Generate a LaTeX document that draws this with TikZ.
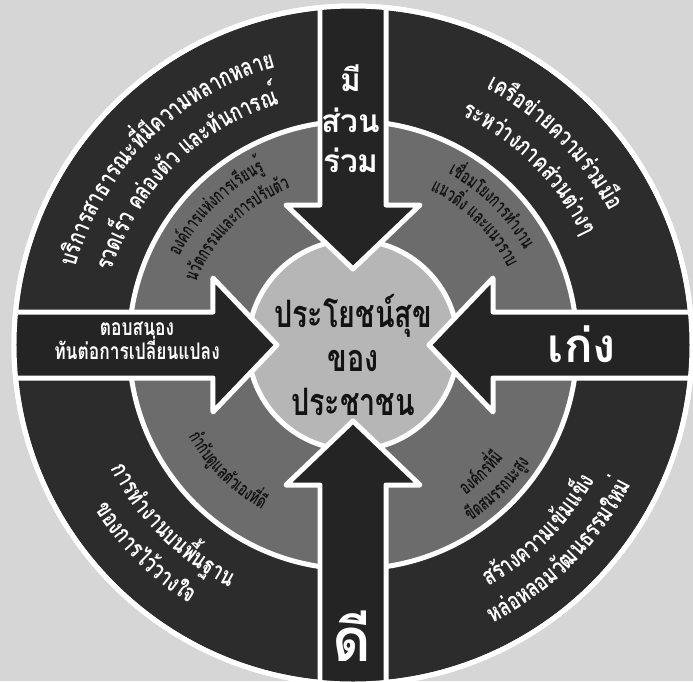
\documentclass[tikz,border=0pt]{standalone}
\usepackage{fontspec}
\newfontfamily\thaifont[Script=Thai]{Loma}
\newfontfamily\thainarrow[Script=Thai,FakeStretch=0.76]{Loma}
\newfontfamily\thaitight[Script=Thai,FakeStretch=0.66]{Loma}
\usetikzlibrary{decorations.text}
\definecolor{bgpaper}{RGB}{214,214,214}
\definecolor{ringdark}{RGB}{44,44,44}
\definecolor{ringmid}{RGB}{108,108,108}
\definecolor{ringcore}{RGB}{182,182,182}
\definecolor{arrowdark}{RGB}{36,36,36}
\definecolor{inkdark}{RGB}{18,18,18}

\begin{document}
\begin{tikzpicture}[x=0.02cm,y=0.02cm,line join=round,
  sep/.style={draw=white,line width=0.1cm},
  bigarrow/.style={fill=arrowdark,draw=white,line width=0.1cm},
  outertext/.style={decorate,decoration={text along path,text align=center,
      text={|\thainarrow\bfseries\color{white}\fontsize{14}{14}\selectfont|#1}}},
  midtext/.style={decorate,decoration={text along path,text align=center,
      text={|\thaitight\bfseries\color{inkdark}\fontsize{11}{11}\selectfont|#1}}},
  arrowlabel/.style={text=white,align=center,inner sep=0pt,text depth=0pt},
  corelabel/.style={text=inkdark,align=center,inner sep=0pt,
      font=\thainarrow\bfseries\fontsize{21.5}{25}\selectfont}]
  % paper and rings
  \fill[bgpaper] (-353,-336) rectangle (340,345);
  \useasboundingbox (-353,-336) rectangle (340,345);
  \filldraw[fill=ringdark,sep] (0,0) circle[radius=339];
  \filldraw[fill=ringmid,sep] (0,0) circle[radius=224];
  \filldraw[fill=ringcore,sep] (0,0) circle[radius=105];
  % four arrows into the core
  \begin{scope}
    \clip (0,0) circle[radius=339];
    \foreach \ang in {0,90,180,270}
      \filldraw[bigarrow,rotate=\ang] (-33,400) -- (-33,140) -- (-67,140) -- (0,76)
        -- (67,140) -- (33,140) -- (33,400) -- cycle;
  \end{scope}
  \draw[sep] (0,0) circle[radius=339];
  % outer ring, top
  \path[outertext={{บ}{ริ}{ก}{า}{ร}{ส}{า}{ธ}{า}{ร}{ณ}{ะ}{ที่}{มี}{ค}{ว}{า}{ม}{ห}{ล}{า}{ก}{ห}{ล}{า}{ย}}]
    (175:288) arc[start angle=175,end angle=95,radius=288];
  \path[outertext={{ร}{ว}{ด}{เ}{ร็}{ว} {ค}{ล่}{อ}{ง}{ตั}{ว} {แ}{ล}{ะ}{ทั}{น}{ก}{า}{ร}{ณ์}}]
    (175:252) arc[start angle=175,end angle=95,radius=252];
  \path[outertext={{เ}{ค}{รื}{อ}{ข่}{า}{ย}{ค}{ว}{า}{ม}{ร่}{ว}{ม}{มื}{อ}}]
    (85:289) arc[start angle=85,end angle=5,radius=289];
  \path[outertext={{ร}{ะ}{ห}{ว่}{า}{ง}{ภ}{า}{ค}{ส่}{ว}{น}{ต่}{า}{ง}{ๆ}}]
    (85:254) arc[start angle=85,end angle=5,radius=254];
  % outer ring, bottom
  \path[outertext={{ก}{า}{ร}{ทำ}{ง}{า}{น}{บ}{น}{พื้}{น}{ฐ}{า}{น}}]
    (185:272) arc[start angle=185,end angle=265,radius=272];
  \path[outertext={{ข}{อ}{ง}{ก}{า}{ร}{ไ}{ว้}{ว}{า}{ง}{ใ}{จ}}]
    (185:306) arc[start angle=185,end angle=265,radius=306];
  \path[outertext={{ส}{ร้}{า}{ง}{ค}{ว}{า}{ม}{เ}{ข้}{ม}{แ}{ข็}{ง}}]
    (275:277) arc[start angle=275,end angle=355,radius=277];
  \path[outertext={{ห}{ล่}{อ}{ห}{ล}{อ}{ม}{วั}{ฒ}{น}{ธ}{ร}{ร}{ม}{ใ}{ห}{ม่}}]
    (275:311) arc[start angle=275,end angle=355,radius=311];
  % middle ring
  \path[midtext={{อ}{ง}{ค์}{ก}{า}{ร}{แ}{ห่}{ง}{ก}{า}{ร}{เ}{รี}{ย}{น}{รู้}}]
    (170:195) arc[start angle=170,end angle=100,radius=195];
  \path[midtext={{น}{วั}{ต}{ก}{ร}{ร}{ม}{แ}{ล}{ะ}{ก}{า}{ร}{ป}{รั}{บ}{ตั}{ว}}]
    (170:169) arc[start angle=170,end angle=100,radius=169];
  \path[midtext={{เ}{ชื่}{อ}{ม}{โ}{ย}{ง}{ก}{า}{ร}{ทำ}{ง}{า}{น}}]
    (80:196) arc[start angle=80,end angle=10,radius=196];
  \path[midtext={{แ}{น}{ว}{ดิ่}{ง} {แ}{ล}{ะ}{แ}{น}{ว}{ร}{า}{บ}}]
    (80:173) arc[start angle=80,end angle=10,radius=173];
  \path[midtext={{กำ}{กั}{บ}{ดู}{แ}{ล}{ตั}{ว}{เ}{อ}{ง}{ที่}{ดี}}]
    (190:188) arc[start angle=190,end angle=260,radius=188];
  \path[midtext={{อ}{ง}{ค์}{ก}{ร}{ที่}{มี}}]
    (280:188) arc[start angle=280,end angle=350,radius=188];
  \path[midtext={{ขี}{ด}{ส}{ม}{ร}{ร}{ถ}{น}{ะ}{สู}{ง}}]
    (280:212) arc[start angle=280,end angle=350,radius=212];
  % arrow labels
  \node[arrowlabel,font=\thaifont\bfseries\fontsize{18}{23}\selectfont] (joinlabel) at (-2,226) {มี\\ส่วน\\ร่วม};
  \node[arrowlabel,font=\thainarrow\bfseries\fontsize{13}{13.5}\selectfont] (adaptlabel) at (-216,4) {ตอบสนอง\\ทันต่อการเปลี่ยนแปลง};
  \node[arrowlabel,anchor=base,font=\thaifont\bfseries\fontsize{27}{27}\selectfont] (skilllabel) at (229,-17) {เก่ง};
  \node[arrowlabel,anchor=base,font=\thaifont\bfseries\fontsize{34}{34}\selectfont] (goodlabel) at (-1,-316) {ดี};
  % core
  \node[corelabel] (corelabel) at (0,-10) {ประโยชน์สุข\\ของ\\ประชาชน};
\end{tikzpicture}
\end{document}
